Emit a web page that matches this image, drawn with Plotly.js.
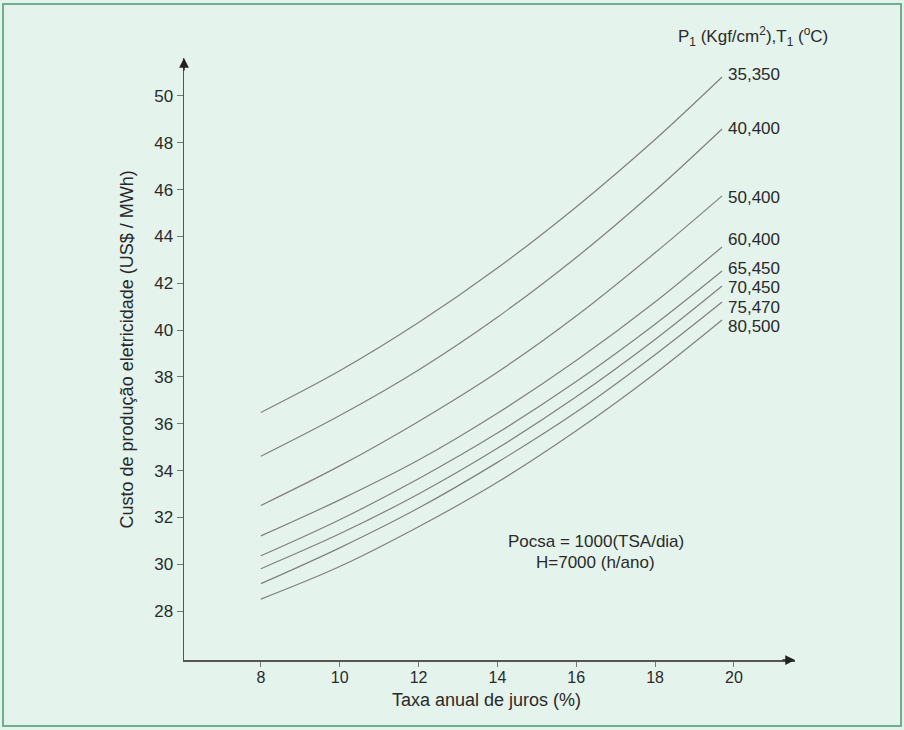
<!DOCTYPE html>
<html>
<head>
<meta charset="utf-8">
<script src="https://cdn.plot.ly/plotly-3.0.1.min.js"></script>
<style>
  html, body { margin: 0; padding: 0; background: #e4f3ec; }
  #chart { width: 904px; height: 730px; }
</style>
</head>
<body>
<div id="chart"></div>
<script>
// Interest rate (%) sample positions
const interestRate = [8, 10, 12, 14, 16, 18, 19.7];

// Series labels: P1 (Kgf/cm2), T1 (°C)
const seriesNames = ["35,350", "40,400", "50,400", "60,400", "65,450", "70,450", "75,470", "80,500"];

// Electricity production cost (US$/MWh)
const cost_35_350 = [36.48, 38.26, 40.32, 42.65, 45.26, 48.14, 50.81];
const cost_40_400 = [34.61, 36.35, 38.30, 40.55, 43.10, 45.95, 48.59];
const cost_50_400 = [32.51, 34.20, 36.10, 38.20, 40.60, 43.30, 45.73];
const cost_60_400 = [31.21, 32.75, 34.45, 36.45, 38.70, 41.20, 43.55];
const cost_65_450 = [30.36, 31.90, 33.65, 35.60, 37.80, 40.25, 42.52];
const cost_70_450 = [29.81, 31.30, 33.00, 34.95, 37.15, 39.60, 41.88];
const cost_75_470 = [29.17, 30.70, 32.40, 34.35, 36.50, 38.95, 41.20];
const cost_80_500 = [28.51, 29.90, 31.60, 33.50, 35.70, 38.15, 40.43];

const xTicks = [8, 10, 12, 14, 16, 18, 20];
const yTicks = [28, 30, 32, 34, 36, 38, 40, 42, 44, 46, 48, 50];

const allSeries = [cost_35_350, cost_40_400, cost_50_400, cost_60_400,
                   cost_65_450, cost_70_450, cost_75_470, cost_80_500];

// vertical placement (in axis units) of each curve's label, as printed
const labelLevel = [50.90, 48.63, 45.68, 43.85, 42.62, 41.80, 40.98, 40.14];

const FONT = "Liberation Sans, Arial, Helvetica, sans-serif";
const TXT = "#2a2a2a";
const BG = "#e4f3ec";

const traces = allSeries.map((ys, i) => ({
  type: "scatter",
  mode: "lines",
  x: interestRate,
  y: ys,
  name: seriesNames[i],
  line: { color: "#808080", width: 1.2, shape: "spline", smoothing: 1.0 },
  hoverinfo: "skip",
  showlegend: false
}));

const annotations = allSeries.map((ys, i) => ({
  x: interestRate[interestRate.length - 1],
  y: labelLevel[i],
  xref: "x", yref: "y",
  text: seriesNames[i],
  showarrow: false,
  xanchor: "left", yanchor: "middle",
  xshift: 4,
  font: { family: FONT, size: 17, color: TXT }
}));

annotations.push({
  x: 20.49, y: 1.035, xref: "x", yref: "paper",
  text: "P<sub>1</sub> (Kgf/cm<sup>2</sup>),T<sub>1</sub> (<sup>o</sup>C)",
  showarrow: false, xanchor: "center", yanchor: "middle",
  font: { family: FONT, size: 17, color: TXT }
});
annotations.push({
  x: 16.5, y: 30.99, xref: "x", yref: "y",
  text: "Pocsa = 1000(TSA/dia)",
  showarrow: false, xanchor: "center", yanchor: "middle",
  font: { family: FONT, size: 17, color: TXT }
});
annotations.push({
  x: 16.5, y: 30.09, xref: "x", yref: "y",
  text: "H=7000 (h/ano)",
  showarrow: false, xanchor: "center", yanchor: "middle",
  font: { family: FONT, size: 17, color: TXT }
});
// axis titles
annotations.push({
  x: 0.4943, y: -0.0665, xref: "paper", yref: "paper",
  text: "Taxa anual de juros (%)",
  showarrow: false, xanchor: "center", yanchor: "middle",
  font: { family: FONT, size: 18, color: TXT }
});
annotations.push({
  x: -0.0917, y: 0.5158, xref: "paper", yref: "paper",
  text: "Custo de produção eletricidade (US$ / MWh)",
  textangle: -90,
  showarrow: false, xanchor: "center", yanchor: "middle",
  font: { family: FONT, size: 18, color: TXT }
});
// axis arrowheads
annotations.push({
  x: 0, y: 1, xref: "paper", yref: "paper", text: "",
  showarrow: true, arrowhead: 2, arrowsize: 1.3, arrowwidth: 1.5,
  arrowcolor: "#222", ax: 0, ay: 14, standoff: 0
});
annotations.push({
  x: 1, y: 0, xref: "paper", yref: "paper", text: "",
  showarrow: true, arrowhead: 2, arrowsize: 1.3, arrowwidth: 1.5,
  arrowcolor: "#222", ax: -14, ay: 0, standoff: 0
});

const layout = {
  width: 904, height: 730,
  margin: { l: 184, r: 109, t: 58, b: 70 },
  paper_bgcolor: BG,
  plot_bgcolor: BG,
  showlegend: false,
  font: { family: FONT, color: TXT },
  xaxis: {
    range: [6.05, 21.55],
    tickvals: xTicks,
    ticktext: xTicks.map(String),
    showgrid: false, zeroline: false,
    showline: true, linecolor: "#555", linewidth: 1.5,
    ticks: "outside", ticklen: 5, tickcolor: "#777", tickwidth: 1,
    ticklabelstandoff: -3,
    tickfont: { family: FONT, size: 16, color: TXT },
    fixedrange: true
  },
  yaxis: {
    range: [25.91, 51.62],
    tickvals: yTicks,
    ticktext: yTicks.map(String),
    showgrid: false, zeroline: false,
    showline: true, linecolor: "#555", linewidth: 1.5,
    ticks: "outside", ticklen: 6, tickcolor: "#777", tickwidth: 1,
    tickfont: { family: FONT, size: 17, color: TXT },
    fixedrange: true
  },
  shapes: [{
    type: "rect", xref: "paper", yref: "paper",
    x0: -0.2962, x1: 1.1735, y0: -0.1096, y1: 1.0897,
    line: { color: "#6fae8c", width: 2 }, fillcolor: "rgba(0,0,0,0)",
    layer: "below"
  }],
  annotations: annotations
};

Plotly.newPlot("chart", traces, layout, { displayModeBar: false, staticPlot: true });
</script>
</body>
</html>
